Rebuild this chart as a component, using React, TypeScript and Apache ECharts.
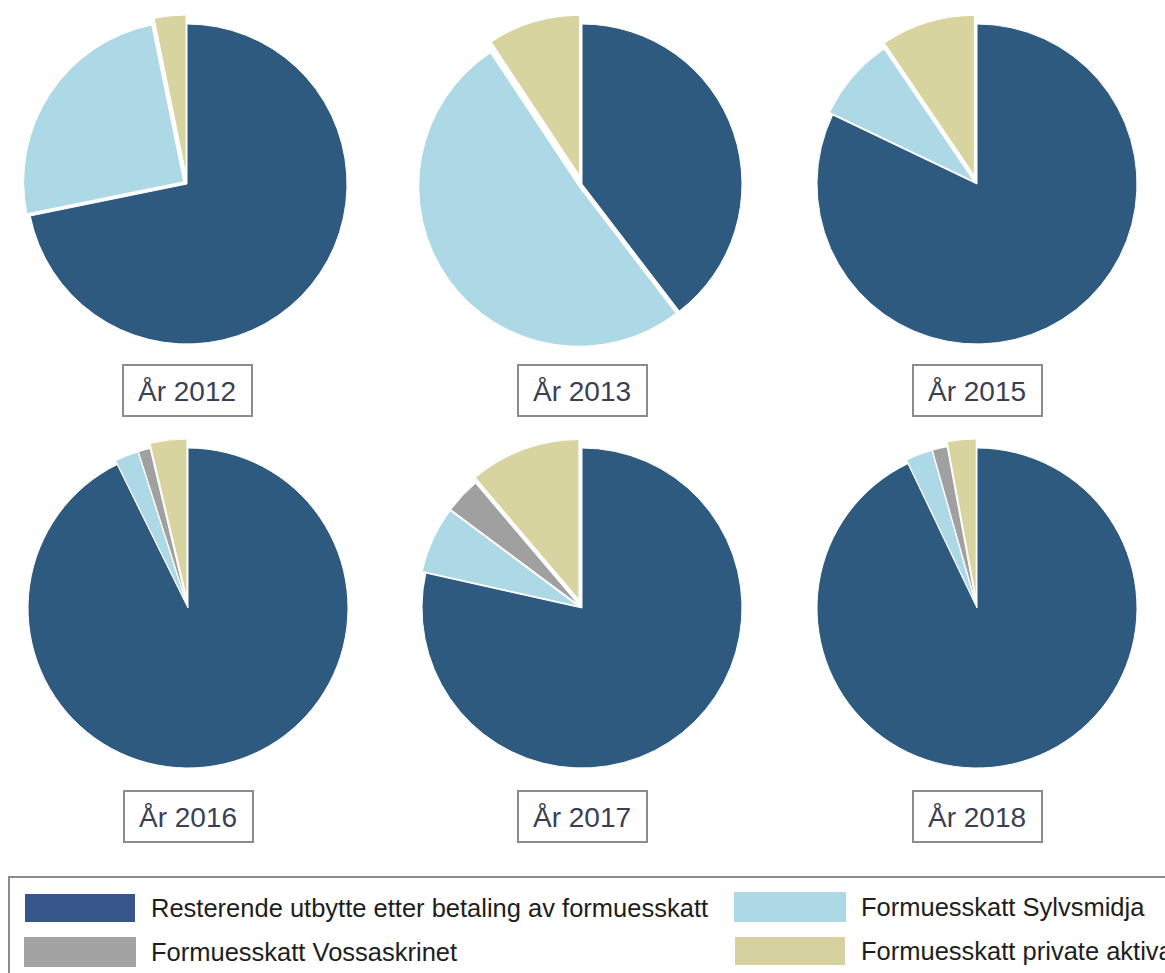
import React, { useEffect, useRef } from "react";
import * as echarts from "echarts";

const categories = [
  "Resterende utbytte etter betaling av formuesskatt",
  "Formuesskatt Sylvsmidja",
  "Formuesskatt Vossaskrinet",
  "Formuesskatt private aktiva",
];
const years = ["År 2012", "År 2013", "År 2015", "År 2016", "År 2017", "År 2018"];
const resterende = [71.8, 39.6, 82.1, 92.7, 78.5, 92.9];
const sylvsmidja = [25.0, 51.1, 8.4, 2.4, 6.7, 2.7];
const vossaskrinet = [0, 0, 0, 1.2, 3.6, 1.5];
const privateAktiva = [3.2, 9.3, 9.5, 3.7, 11.2, 2.9];

const pieColors = ["#2F5A7F", "#ADD8E6", "#A0A0A0", "#D8D4A0"];
const legendColors = ["#36558A", "#ADD8E6", "#A3A3A3", "#D6D2A0"];

const centers: [number, number][] = [
  [187, 184], [582, 184], [977, 184],
  [188, 608], [582, 608], [977, 608],
];
const boxTops = [365, 365, 365, 791, 791, 791];
const RADIUS = 160;
const FONT = "'Liberation Sans', Arial, sans-serif";

export default function App() {
  const ref = useRef<HTMLDivElement>(null);
  useEffect(() => {
    document.body.style.margin = "0";
    const chart = echarts.init(ref.current!, undefined, { renderer: "svg" });
    const series: any[] = [];
    const TRANSPARENT = "rgba(0,0,0,0)";
    years.forEach((year, i) => {
      const values = [resterende[i], sylvsmidja[i], vossaskrinet[i], privateAktiva[i]];
      // layer A: dark slice + private aktiva (exploded further)
      // layer B: Sylvsmidja + Vossaskrinet (exploded slightly)
      const mk = (layer: "A" | "B") =>
        values
          .map((v, k) => {
            const visible = layer === "A" ? k === 0 || k === 3 : k === 1 || k === 2;
            const selected = layer === "A" ? k === 3 : k === 1 || k === 2;
            const style = visible
              ? { color: pieColors[k], borderColor: "#ffffff", borderWidth: 1 }
              : { color: TRANSPARENT, borderWidth: 0 };
            return {
              name: categories[k],
              value: v,
              selected,
              itemStyle: style,
              select: { itemStyle: style },
            };
          })
          .filter((d) => d.value > 0);
      const base = {
        type: "pie",
        center: centers[i],
        radius: RADIUS,
        startAngle: 90,
        clockwise: true,
        selectedMode: "multiple",
        label: { show: false },
        labelLine: { show: false },
        emphasis: { disabled: true },
        silent: true,
        avoidLabelOverlap: false,
      };
      series.push({ ...base, name: year + " A", selectedOffset: 9, data: mk("A") });
      series.push({ ...base, name: year + " B", selectedOffset: 4, data: mk("B") });
    });

    const graphics: any[] = [];
    years.forEach((year, i) => {
      const cx = centers[i][0];
      graphics.push({
        type: "rect",
        shape: { x: cx - 64, y: boxTops[i], width: 129, height: 51 },
        style: { fill: "#ffffff", stroke: "#8C8C8C", lineWidth: 2 },
        silent: true,
      });
      graphics.push({
        type: "text",
        x: cx,
        y: boxTops[i] + 26,
        style: {
          text: year,
          fill: "#3A3F55",
          font: `28px ${FONT}`,
          textAlign: "center",
          textVerticalAlign: "middle",
        },
        silent: true,
      });
    });
    graphics.push({
      type: "rect",
      shape: { x: 9, y: 877, width: 1200, height: 120 },
      style: { fill: "none", stroke: "#8C8C8C", lineWidth: 2 },
      silent: true,
      z: -1,
    });

    const legendBase = {
      orient: "vertical",
      top: 892,
      itemWidth: 112,
      itemHeight: 30,
      itemGap: 13,
      padding: 0,
      icon: "rect",
      selectedMode: false,
      textStyle: { fontSize: 25.5, color: "#1E1E1E", fontFamily: FONT, padding: [0, 0, 0, 10] },
    };

    chart.setOption({
      animation: false,
      backgroundColor: "#ffffff",
      legend: [
        {
          ...legendBase,
          left: 23,
          data: [0, 2].map((k) => ({ name: categories[k], itemStyle: { color: legendColors[k] } })),
        },
        {
          ...legendBase,
          left: 733,
          data: [1, 3].map((k) => ({ name: categories[k], itemStyle: { color: legendColors[k] } })),
        },
      ],
      graphic: graphics,
      series,
    });
    return () => chart.dispose();
  }, []);
  return (
    <div
      ref={ref}
      style={{ position: "absolute", left: 0, top: 0, width: 1165, height: 973 }}
    />
  );
}
